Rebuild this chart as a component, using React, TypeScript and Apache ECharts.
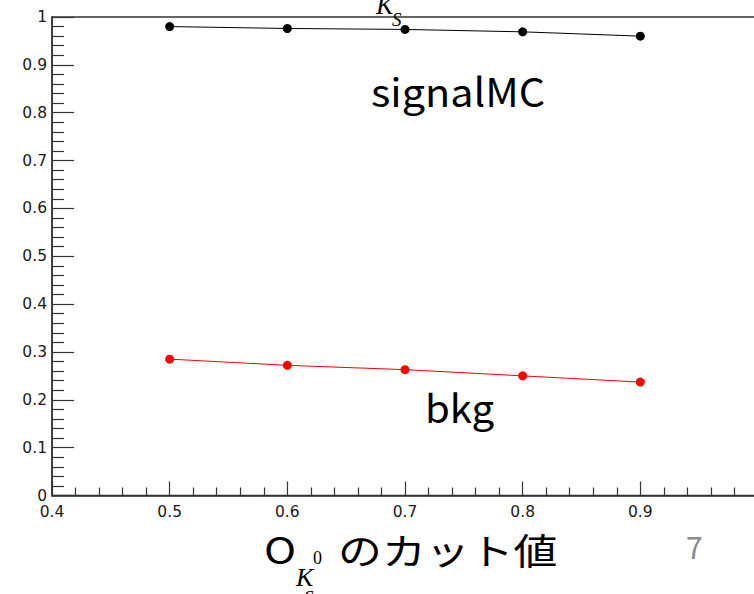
import React, { useEffect, useRef } from 'react';
import * as echarts from 'echarts';

// ---- data ----
const cutValues = [0.5, 0.6, 0.7, 0.8, 0.9];
const signalMCEff = [0.98, 0.976, 0.974, 0.969, 0.96];
const bkgEff = [0.285, 0.272, 0.263, 0.25, 0.237];
const seriesNames = ['signalMC', 'bkg'];
const xTitleLead = 'O';
const xTitleTail = 'のカット値';
const pageNumber = '7';

export default function App() {
  const ref = useRef<HTMLDivElement>(null);

  useEffect(() => {
    if (!ref.current) return;
    const chart = echarts.init(ref.current, null, { renderer: 'svg' });
    const axisColor = '#333333';
    const labelStyle = { fontFamily: 'DejaVu Sans', fontSize: 15.5, color: '#1a1a1a' };
    const cjk = '"Noto Sans CJK JP"';
    const serif = '"Liberation Serif"';

    chart.setOption({
      animation: false,
      backgroundColor: '#ffffff',
      grid: {
        left: 52,
        right: -4,
        top: 17,
        bottom: 98.5,
        containLabel: false,
        outerBoundsMode: 'none',
        show: true,
        borderColor: axisColor,
        borderWidth: 1.5,
        backgroundColor: 'transparent',
      },
      xAxis: {
        type: 'value',
        min: 0.4,
        max: 1.0,
        interval: 0.1,
        axisLine: { show: true, onZero: false, lineStyle: { color: axisColor, width: 1.5 } },
        axisTick: { show: true, inside: true, length: 14, lineStyle: { color: axisColor, width: 1.2 } },
        minorTick: { show: true, splitNumber: 5, length: 8, lineStyle: { color: axisColor, width: 1.2 } },
        splitLine: { show: false },
        minorSplitLine: { show: false },
        axisLabel: { ...labelStyle, margin: 8, showMaxLabel: false },
      },
      yAxis: {
        type: 'value',
        min: 0,
        max: 1,
        interval: 0.1,
        axisLine: { show: true, onZero: false, lineStyle: { color: axisColor, width: 1.5 } },
        axisTick: { show: true, inside: true, length: 22, lineStyle: { color: axisColor, width: 1.2 } },
        minorTick: { show: true, splitNumber: 5, length: 12, lineStyle: { color: axisColor, width: 1.2 } },
        splitLine: { show: false },
        minorSplitLine: { show: false },
        axisLabel: { ...labelStyle, margin: 5 },
      },
      series: [
        {
          name: seriesNames[0],
          type: 'line',
          data: cutValues.map((x, i) => [x, signalMCEff[i]]),
          symbol: 'circle',
          symbolSize: 9,
          itemStyle: { color: '#000000' },
          lineStyle: { color: '#000000', width: 1 },
        },
        {
          name: seriesNames[1],
          type: 'line',
          data: cutValues.map((x, i) => [x, bkgEff[i]]),
          symbol: 'circle',
          symbolSize: 9,
          itemStyle: { color: '#ff0000' },
          lineStyle: { color: '#ff0000', width: 1 },
        },
      ],
      graphic: [
        {
          type: 'text', x: 371, y: 90, scaleX: 1.06,
          style: { text: seriesNames[0], font: `39px ${cjk}`, fill: '#000', align: 'left', verticalAlign: 'middle' },
        },
        {
          type: 'text', x: 425, y: 406, scaleX: 1.03,
          style: { text: seriesNames[1], font: `39px ${cjk}`, fill: '#000', align: 'left', verticalAlign: 'middle' },
        },
        {
          type: 'text', x: 264, y: 548, scaleX: 1.17,
          style: { text: xTitleLead, font: `37px ${cjk}`, fill: '#000', align: 'left', verticalAlign: 'middle' },
        },
        {
          type: 'text', x: 296, y: 577,
          style: { text: 'K', font: `italic 26px ${serif}`, fill: '#000', align: 'left', verticalAlign: 'middle' },
        },
        {
          type: 'text', x: 313, y: 558,
          style: { text: '0', font: `18px ${serif}`, fill: '#000', align: 'left', verticalAlign: 'middle' },
        },
        {
          type: 'text', x: 304, y: 597,
          style: { text: 'S', font: `italic 19px ${serif}`, fill: '#000', align: 'left', verticalAlign: 'middle' },
        },
        {
          type: 'text', x: 338, y: 549, scaleX: 1.22,
          style: { text: xTitleTail, font: `36px ${cjk}`, fill: '#000', align: 'left', verticalAlign: 'middle' },
        },
        {
          type: 'text', x: 686, y: 546,
          style: { text: pageNumber, font: `30px ${cjk}`, fill: '#8a8a8a', align: 'left', verticalAlign: 'middle' },
        },
        {
          type: 'text', x: 376, y: 5,
          style: { text: 'K', font: `italic 26px ${serif}`, fill: '#000', align: 'left', verticalAlign: 'middle' },
        },
        {
          type: 'text', x: 392, y: 19,
          style: { text: 'S', font: `italic 19px ${serif}`, fill: '#000', align: 'left', verticalAlign: 'middle' },
        },
      ],
    });

    return () => chart.dispose();
  }, []);

  return (
    <div
      ref={ref}
      style={{ position: 'absolute', left: 0, top: 0, width: 754, height: 594 }}
    />
  );
}
